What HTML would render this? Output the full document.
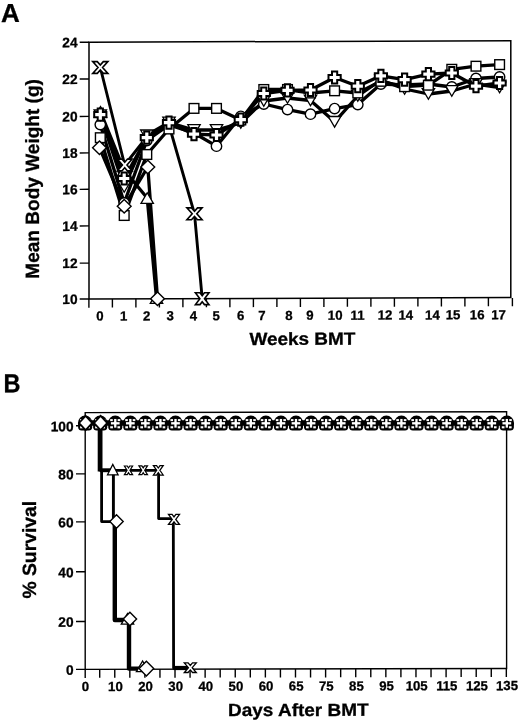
<!DOCTYPE html>
<html><head><meta charset="utf-8"><title>Figure</title>
<style>
html,body{margin:0;padding:0;background:#fff;}
body{width:520px;height:722px;overflow:hidden;font-family:"Liberation Sans", sans-serif;}
svg{display:block;filter:blur(0.3px);}
text{font-family:"Liberation Sans", sans-serif;font-weight:bold;fill:#000;stroke:#000;stroke-width:0.3px;}
.t{font-size:13.2px;}
.ty{font-size:13.7px;}
.ax{font-size:17.6px;}
.ay{font-size:19.2px;}
.pn{font-size:26.0px;}
</style></head><body>
<svg width="520" height="722" viewBox="0 0 520 722">
<rect width="520" height="722" fill="#fff"/>
<g transform="translate(89.0 299.0) skewY(-0.2) translate(-89.0 -299.0)">
<path d="M89.0,42.2 H510.8 V299.0 H89.0 Z" fill="none" stroke="#000" stroke-width="1.5"/>
<line x1="79.7" y1="299.00" x2="89.0" y2="299.00" stroke="#000" stroke-width="1.4"/>
<text x="77.6" y="303.90" text-anchor="end" class="ty">10</text>
<line x1="79.7" y1="263.10" x2="89.0" y2="263.10" stroke="#000" stroke-width="1.4"/>
<text x="77.6" y="268.00" text-anchor="end" class="ty">12</text>
<line x1="79.7" y1="225.90" x2="89.0" y2="225.90" stroke="#000" stroke-width="1.4"/>
<text x="77.6" y="230.80" text-anchor="end" class="ty">14</text>
<line x1="79.7" y1="189.30" x2="89.0" y2="189.30" stroke="#000" stroke-width="1.4"/>
<text x="77.6" y="194.20" text-anchor="end" class="ty">16</text>
<line x1="79.7" y1="152.90" x2="89.0" y2="152.90" stroke="#000" stroke-width="1.4"/>
<text x="77.6" y="157.80" text-anchor="end" class="ty">18</text>
<line x1="79.7" y1="116.40" x2="89.0" y2="116.40" stroke="#000" stroke-width="1.4"/>
<text x="77.6" y="121.30" text-anchor="end" class="ty">20</text>
<line x1="79.7" y1="79.00" x2="89.0" y2="79.00" stroke="#000" stroke-width="1.4"/>
<text x="77.6" y="83.90" text-anchor="end" class="ty">22</text>
<line x1="79.7" y1="42.20" x2="89.0" y2="42.20" stroke="#000" stroke-width="1.4"/>
<text x="77.6" y="47.10" text-anchor="end" class="ty">24</text>
<line x1="88.90" y1="299.0" x2="88.90" y2="307.7" stroke="#000" stroke-width="1.4"/>
<line x1="112.40" y1="299.0" x2="112.40" y2="307.7" stroke="#000" stroke-width="1.4"/>
<line x1="135.90" y1="299.0" x2="135.90" y2="307.7" stroke="#000" stroke-width="1.4"/>
<line x1="159.40" y1="299.0" x2="159.40" y2="307.7" stroke="#000" stroke-width="1.4"/>
<line x1="182.90" y1="299.0" x2="182.90" y2="307.7" stroke="#000" stroke-width="1.4"/>
<line x1="206.40" y1="299.0" x2="206.40" y2="307.7" stroke="#000" stroke-width="1.4"/>
<line x1="229.90" y1="299.0" x2="229.90" y2="307.7" stroke="#000" stroke-width="1.4"/>
<line x1="253.40" y1="299.0" x2="253.40" y2="307.7" stroke="#000" stroke-width="1.4"/>
<line x1="276.90" y1="299.0" x2="276.90" y2="307.7" stroke="#000" stroke-width="1.4"/>
<line x1="300.40" y1="299.0" x2="300.40" y2="307.7" stroke="#000" stroke-width="1.4"/>
<line x1="323.90" y1="299.0" x2="323.90" y2="307.7" stroke="#000" stroke-width="1.4"/>
<line x1="347.40" y1="299.0" x2="347.40" y2="307.7" stroke="#000" stroke-width="1.4"/>
<line x1="370.90" y1="299.0" x2="370.90" y2="307.7" stroke="#000" stroke-width="1.4"/>
<line x1="394.40" y1="299.0" x2="394.40" y2="307.7" stroke="#000" stroke-width="1.4"/>
<line x1="417.90" y1="299.0" x2="417.90" y2="307.7" stroke="#000" stroke-width="1.4"/>
<line x1="441.40" y1="299.0" x2="441.40" y2="307.7" stroke="#000" stroke-width="1.4"/>
<line x1="464.90" y1="299.0" x2="464.90" y2="307.7" stroke="#000" stroke-width="1.4"/>
<line x1="488.40" y1="299.0" x2="488.40" y2="307.7" stroke="#000" stroke-width="1.4"/>
<line x1="512.4" y1="299.5" x2="512.4" y2="307.7" stroke="#000" stroke-width="1.4"/>
<text x="99.9" y="320.6" text-anchor="middle" class="t">0</text>
<text x="123.6" y="320.6" text-anchor="middle" class="t">1</text>
<text x="146.8" y="320.6" text-anchor="middle" class="t">2</text>
<text x="170.1" y="320.6" text-anchor="middle" class="t">3</text>
<text x="193.4" y="320.6" text-anchor="middle" class="t">4</text>
<text x="216.2" y="320.6" text-anchor="middle" class="t">5</text>
<text x="240.7" y="320.6" text-anchor="middle" class="t">6</text>
<text x="261.9" y="320.6" text-anchor="middle" class="t">7</text>
<text x="289.0" y="320.6" text-anchor="middle" class="t">8</text>
<text x="309.9" y="320.6" text-anchor="middle" class="t">9</text>
<text x="335.2" y="320.6" text-anchor="middle" class="t">10</text>
<text x="357.6" y="320.6" text-anchor="middle" class="t">11</text>
<text x="385.0" y="320.6" text-anchor="middle" class="t">12</text>
<text x="405.8" y="320.6" text-anchor="middle" class="t">14</text>
<text x="432.4" y="320.6" text-anchor="middle" class="t">14</text>
<text x="453.1" y="320.6" text-anchor="middle" class="t">15</text>
<text x="477.2" y="320.6" text-anchor="middle" class="t">16</text>
<text x="498.6" y="320.6" text-anchor="middle" class="t">17</text>
<text x="302.4" y="345.6" text-anchor="middle" class="ax" textLength="106" lengthAdjust="spacingAndGlyphs">Weeks BMT</text>
<text transform="translate(38.6 178.7) rotate(-90)" text-anchor="middle" class="ay" textLength="199.6" lengthAdjust="spacingAndGlyphs">Mean Body Weight (g)</text>
<text x="1.1" y="21.6" class="pn">A</text>
</g><g>
<polyline points="100.30,67.50 124.70,165.00 146.80,137.00 169.00,125.00 194.50,213.80 202.20,298.70" fill="none" stroke="#000" stroke-width="2.9" stroke-linejoin="round"/>
<polyline points="100.50,111.80 124.00,170.00 147.20,198.00 156.50,298.00" fill="none" stroke="#000" stroke-width="3.3" stroke-linejoin="round"/>
<polyline points="100.30,124.60 124.20,203.00 146.80,140.50 169.00,125.00 194.00,133.00 216.50,146.20 240.80,116.30 263.80,104.00 287.50,109.60 310.50,114.20 334.60,108.60 357.80,104.60 380.90,84.00 404.60,85.00 428.40,84.00 451.80,87.00 476.00,78.50 499.60,77.00" fill="none" stroke="#000" stroke-width="3.3" stroke-linejoin="round"/>
<polyline points="100.30,115.30 124.20,187.00 146.80,135.30 169.00,122.50 194.00,130.00 216.50,130.00 240.80,123.00 263.80,101.00 287.50,98.00 310.50,100.50 334.60,121.80 357.80,96.00 380.90,80.00 404.60,89.00 428.40,94.00 451.80,91.00 476.00,84.00 499.60,87.50" fill="none" stroke="#000" stroke-width="3.3" stroke-linejoin="round"/>
<polyline points="100.30,137.70 124.20,215.50 146.80,154.50 169.00,129.00 194.00,108.40 216.50,108.40 240.80,120.00 263.80,89.50 287.50,89.50 310.50,93.00 334.60,90.80 357.80,93.00 380.90,81.30 404.60,86.70 428.40,85.20 451.80,69.30 476.00,66.20 499.60,64.60" fill="none" stroke="#000" stroke-width="3.3" stroke-linejoin="round"/>
<polyline points="99.50,147.70 124.20,206.20 147.80,167.00 157.50,298.80" fill="none" stroke="#000" stroke-width="3.3" stroke-linejoin="round"/>
<polyline points="100.30,114.60 124.20,178.50 146.80,137.70 169.00,122.70 194.00,134.20 216.50,135.00 240.80,119.60 263.80,93.50 287.50,90.40 310.50,90.00 334.60,77.50 357.80,86.20 380.90,75.80 404.60,79.60 428.40,74.20 451.80,73.00 476.00,86.20 499.60,83.00" fill="none" stroke="#000" stroke-width="3.3" stroke-linejoin="round"/>
<polygon points="94.30,117.10 106.70,117.10 100.50,106.50" fill="#fff" stroke="#000" stroke-width="1.3" stroke-linejoin="miter"/>
<polygon points="117.80,175.30 130.20,175.30 124.00,164.70" fill="#fff" stroke="#000" stroke-width="1.3" stroke-linejoin="miter"/>
<polygon points="141.00,203.30 153.40,203.30 147.20,192.70" fill="#fff" stroke="#000" stroke-width="1.3" stroke-linejoin="miter"/>
<polygon points="150.30,303.30 162.70,303.30 156.50,292.70" fill="#fff" stroke="#000" stroke-width="1.3" stroke-linejoin="miter"/>
<circle cx="100.30" cy="124.60" r="5.2" fill="#fff" stroke="#000" stroke-width="1.4"/>
<circle cx="124.20" cy="203.00" r="5.2" fill="#fff" stroke="#000" stroke-width="1.4"/>
<circle cx="146.80" cy="140.50" r="5.2" fill="#fff" stroke="#000" stroke-width="1.4"/>
<circle cx="169.00" cy="125.00" r="5.2" fill="#fff" stroke="#000" stroke-width="1.4"/>
<circle cx="194.00" cy="133.00" r="5.2" fill="#fff" stroke="#000" stroke-width="1.4"/>
<circle cx="216.50" cy="146.20" r="5.2" fill="#fff" stroke="#000" stroke-width="1.4"/>
<circle cx="240.80" cy="116.30" r="5.2" fill="#fff" stroke="#000" stroke-width="1.4"/>
<circle cx="263.80" cy="104.00" r="5.2" fill="#fff" stroke="#000" stroke-width="1.4"/>
<circle cx="287.50" cy="109.60" r="5.2" fill="#fff" stroke="#000" stroke-width="1.4"/>
<circle cx="310.50" cy="114.20" r="5.2" fill="#fff" stroke="#000" stroke-width="1.4"/>
<circle cx="334.60" cy="108.60" r="5.2" fill="#fff" stroke="#000" stroke-width="1.4"/>
<circle cx="357.80" cy="104.60" r="5.2" fill="#fff" stroke="#000" stroke-width="1.4"/>
<circle cx="380.90" cy="84.00" r="5.2" fill="#fff" stroke="#000" stroke-width="1.4"/>
<circle cx="404.60" cy="85.00" r="5.2" fill="#fff" stroke="#000" stroke-width="1.4"/>
<circle cx="428.40" cy="84.00" r="5.2" fill="#fff" stroke="#000" stroke-width="1.4"/>
<circle cx="451.80" cy="87.00" r="5.2" fill="#fff" stroke="#000" stroke-width="1.4"/>
<circle cx="476.00" cy="78.50" r="5.2" fill="#fff" stroke="#000" stroke-width="1.4"/>
<circle cx="499.60" cy="77.00" r="5.2" fill="#fff" stroke="#000" stroke-width="1.4"/>
<polygon points="94.10,110.00 106.50,110.00 100.30,120.60" fill="#fff" stroke="#000" stroke-width="1.3" stroke-linejoin="miter"/>
<polygon points="118.00,181.70 130.40,181.70 124.20,192.30" fill="#fff" stroke="#000" stroke-width="1.3" stroke-linejoin="miter"/>
<polygon points="140.60,130.00 153.00,130.00 146.80,140.60" fill="#fff" stroke="#000" stroke-width="1.3" stroke-linejoin="miter"/>
<polygon points="162.80,117.20 175.20,117.20 169.00,127.80" fill="#fff" stroke="#000" stroke-width="1.3" stroke-linejoin="miter"/>
<polygon points="187.80,124.70 200.20,124.70 194.00,135.30" fill="#fff" stroke="#000" stroke-width="1.3" stroke-linejoin="miter"/>
<polygon points="210.30,124.70 222.70,124.70 216.50,135.30" fill="#fff" stroke="#000" stroke-width="1.3" stroke-linejoin="miter"/>
<polygon points="234.60,117.70 247.00,117.70 240.80,128.30" fill="#fff" stroke="#000" stroke-width="1.3" stroke-linejoin="miter"/>
<polygon points="257.60,95.70 270.00,95.70 263.80,106.30" fill="#fff" stroke="#000" stroke-width="1.3" stroke-linejoin="miter"/>
<polygon points="281.30,92.70 293.70,92.70 287.50,103.30" fill="#fff" stroke="#000" stroke-width="1.3" stroke-linejoin="miter"/>
<polygon points="304.30,95.20 316.70,95.20 310.50,105.80" fill="#fff" stroke="#000" stroke-width="1.3" stroke-linejoin="miter"/>
<polygon points="328.40,116.50 340.80,116.50 334.60,127.10" fill="#fff" stroke="#000" stroke-width="1.3" stroke-linejoin="miter"/>
<polygon points="351.60,90.70 364.00,90.70 357.80,101.30" fill="#fff" stroke="#000" stroke-width="1.3" stroke-linejoin="miter"/>
<polygon points="374.70,74.70 387.10,74.70 380.90,85.30" fill="#fff" stroke="#000" stroke-width="1.3" stroke-linejoin="miter"/>
<polygon points="398.40,83.70 410.80,83.70 404.60,94.30" fill="#fff" stroke="#000" stroke-width="1.3" stroke-linejoin="miter"/>
<polygon points="422.20,88.70 434.60,88.70 428.40,99.30" fill="#fff" stroke="#000" stroke-width="1.3" stroke-linejoin="miter"/>
<polygon points="445.60,85.70 458.00,85.70 451.80,96.30" fill="#fff" stroke="#000" stroke-width="1.3" stroke-linejoin="miter"/>
<polygon points="469.80,78.70 482.20,78.70 476.00,89.30" fill="#fff" stroke="#000" stroke-width="1.3" stroke-linejoin="miter"/>
<polygon points="493.40,82.20 505.80,82.20 499.60,92.80" fill="#fff" stroke="#000" stroke-width="1.3" stroke-linejoin="miter"/>
<rect x="95.45" y="132.85" width="9.70" height="9.70" fill="#fff" stroke="#000" stroke-width="1.4"/>
<rect x="119.35" y="210.65" width="9.70" height="9.70" fill="#fff" stroke="#000" stroke-width="1.4"/>
<rect x="141.95" y="149.65" width="9.70" height="9.70" fill="#fff" stroke="#000" stroke-width="1.4"/>
<rect x="164.15" y="124.15" width="9.70" height="9.70" fill="#fff" stroke="#000" stroke-width="1.4"/>
<rect x="189.15" y="103.55" width="9.70" height="9.70" fill="#fff" stroke="#000" stroke-width="1.4"/>
<rect x="211.65" y="103.55" width="9.70" height="9.70" fill="#fff" stroke="#000" stroke-width="1.4"/>
<rect x="235.95" y="115.15" width="9.70" height="9.70" fill="#fff" stroke="#000" stroke-width="1.4"/>
<rect x="258.95" y="84.65" width="9.70" height="9.70" fill="#fff" stroke="#000" stroke-width="1.4"/>
<rect x="282.65" y="84.65" width="9.70" height="9.70" fill="#fff" stroke="#000" stroke-width="1.4"/>
<rect x="305.65" y="88.15" width="9.70" height="9.70" fill="#fff" stroke="#000" stroke-width="1.4"/>
<rect x="329.75" y="85.95" width="9.70" height="9.70" fill="#fff" stroke="#000" stroke-width="1.4"/>
<rect x="352.95" y="88.15" width="9.70" height="9.70" fill="#fff" stroke="#000" stroke-width="1.4"/>
<rect x="376.05" y="76.45" width="9.70" height="9.70" fill="#fff" stroke="#000" stroke-width="1.4"/>
<rect x="399.75" y="81.85" width="9.70" height="9.70" fill="#fff" stroke="#000" stroke-width="1.4"/>
<rect x="423.55" y="80.35" width="9.70" height="9.70" fill="#fff" stroke="#000" stroke-width="1.4"/>
<rect x="446.95" y="64.45" width="9.70" height="9.70" fill="#fff" stroke="#000" stroke-width="1.4"/>
<rect x="471.15" y="61.35" width="9.70" height="9.70" fill="#fff" stroke="#000" stroke-width="1.4"/>
<rect x="494.75" y="59.75" width="9.70" height="9.70" fill="#fff" stroke="#000" stroke-width="1.4"/>
<polygon points="92.60,147.70 99.50,140.90 106.40,147.70 99.50,154.50" fill="#fff" stroke="#000" stroke-width="1.4"/>
<polygon points="117.30,206.20 124.20,199.40 131.10,206.20 124.20,213.00" fill="#fff" stroke="#000" stroke-width="1.4"/>
<polygon points="140.90,167.00 147.80,160.20 154.70,167.00 147.80,173.80" fill="#fff" stroke="#000" stroke-width="1.4"/>
<polygon points="150.60,298.80 157.50,292.00 164.40,298.80 157.50,305.60" fill="#fff" stroke="#000" stroke-width="1.4"/>
<polygon points="92.70,61.60 97.30,61.60 100.30,64.94 103.30,61.60 107.90,61.60 102.60,67.50 107.90,73.40 103.30,73.40 100.30,70.06 97.30,73.40 92.70,73.40 98.00,67.50" fill="#fff" stroke="#000" stroke-width="1.6"/>
<polygon points="117.30,159.10 121.90,159.10 124.70,162.34 127.50,159.10 132.10,159.10 127.00,165.00 132.10,170.90 127.50,170.90 124.70,167.66 121.90,170.90 117.30,170.90 122.40,165.00" fill="#fff" stroke="#000" stroke-width="1.6"/>
<polygon points="186.90,207.90 191.50,207.90 194.50,211.24 197.50,207.90 202.10,207.90 196.80,213.80 202.10,219.70 197.50,219.70 194.50,216.36 191.50,219.70 186.90,219.70 192.20,213.80" fill="#fff" stroke="#000" stroke-width="1.6"/>
<polygon points="195.40,292.80 200.00,292.80 202.20,295.68 204.40,292.80 209.00,292.80 204.50,298.70 209.00,304.60 204.40,304.60 202.20,301.72 200.00,304.60 195.40,304.60 199.90,298.70" fill="#fff" stroke="#000" stroke-width="1.6"/>
<polygon points="97.70,108.50 102.90,108.50 102.90,112.00 106.40,112.00 106.40,117.20 102.90,117.20 102.90,120.70 97.70,120.70 97.70,117.20 94.20,117.20 94.20,112.00 97.70,112.00" fill="#fff" stroke="#000" stroke-width="2.0"/>
<polygon points="121.60,172.40 126.80,172.40 126.80,175.90 130.30,175.90 130.30,181.10 126.80,181.10 126.80,184.60 121.60,184.60 121.60,181.10 118.10,181.10 118.10,175.90 121.60,175.90" fill="#fff" stroke="#000" stroke-width="2.0"/>
<polygon points="144.20,131.60 149.40,131.60 149.40,135.10 152.90,135.10 152.90,140.30 149.40,140.30 149.40,143.80 144.20,143.80 144.20,140.30 140.70,140.30 140.70,135.10 144.20,135.10" fill="#fff" stroke="#000" stroke-width="2.0"/>
<polygon points="166.40,116.60 171.60,116.60 171.60,120.10 175.10,120.10 175.10,125.30 171.60,125.30 171.60,128.80 166.40,128.80 166.40,125.30 162.90,125.30 162.90,120.10 166.40,120.10" fill="#fff" stroke="#000" stroke-width="2.0"/>
<polygon points="191.40,128.10 196.60,128.10 196.60,131.60 200.10,131.60 200.10,136.80 196.60,136.80 196.60,140.30 191.40,140.30 191.40,136.80 187.90,136.80 187.90,131.60 191.40,131.60" fill="#fff" stroke="#000" stroke-width="2.0"/>
<polygon points="213.90,128.90 219.10,128.90 219.10,132.40 222.60,132.40 222.60,137.60 219.10,137.60 219.10,141.10 213.90,141.10 213.90,137.60 210.40,137.60 210.40,132.40 213.90,132.40" fill="#fff" stroke="#000" stroke-width="2.0"/>
<polygon points="238.20,113.50 243.40,113.50 243.40,117.00 246.90,117.00 246.90,122.20 243.40,122.20 243.40,125.70 238.20,125.70 238.20,122.20 234.70,122.20 234.70,117.00 238.20,117.00" fill="#fff" stroke="#000" stroke-width="2.0"/>
<polygon points="261.20,87.40 266.40,87.40 266.40,90.90 269.90,90.90 269.90,96.10 266.40,96.10 266.40,99.60 261.20,99.60 261.20,96.10 257.70,96.10 257.70,90.90 261.20,90.90" fill="#fff" stroke="#000" stroke-width="2.0"/>
<polygon points="284.90,84.30 290.10,84.30 290.10,87.80 293.60,87.80 293.60,93.00 290.10,93.00 290.10,96.50 284.90,96.50 284.90,93.00 281.40,93.00 281.40,87.80 284.90,87.80" fill="#fff" stroke="#000" stroke-width="2.0"/>
<polygon points="307.90,83.90 313.10,83.90 313.10,87.40 316.60,87.40 316.60,92.60 313.10,92.60 313.10,96.10 307.90,96.10 307.90,92.60 304.40,92.60 304.40,87.40 307.90,87.40" fill="#fff" stroke="#000" stroke-width="2.0"/>
<polygon points="332.00,71.40 337.20,71.40 337.20,74.90 340.70,74.90 340.70,80.10 337.20,80.10 337.20,83.60 332.00,83.60 332.00,80.10 328.50,80.10 328.50,74.90 332.00,74.90" fill="#fff" stroke="#000" stroke-width="2.0"/>
<polygon points="355.20,80.10 360.40,80.10 360.40,83.60 363.90,83.60 363.90,88.80 360.40,88.80 360.40,92.30 355.20,92.30 355.20,88.80 351.70,88.80 351.70,83.60 355.20,83.60" fill="#fff" stroke="#000" stroke-width="2.0"/>
<polygon points="378.30,69.70 383.50,69.70 383.50,73.20 387.00,73.20 387.00,78.40 383.50,78.40 383.50,81.90 378.30,81.90 378.30,78.40 374.80,78.40 374.80,73.20 378.30,73.20" fill="#fff" stroke="#000" stroke-width="2.0"/>
<polygon points="402.00,73.50 407.20,73.50 407.20,77.00 410.70,77.00 410.70,82.20 407.20,82.20 407.20,85.70 402.00,85.70 402.00,82.20 398.50,82.20 398.50,77.00 402.00,77.00" fill="#fff" stroke="#000" stroke-width="2.0"/>
<polygon points="425.80,68.10 431.00,68.10 431.00,71.60 434.50,71.60 434.50,76.80 431.00,76.80 431.00,80.30 425.80,80.30 425.80,76.80 422.30,76.80 422.30,71.60 425.80,71.60" fill="#fff" stroke="#000" stroke-width="2.0"/>
<polygon points="449.20,66.90 454.40,66.90 454.40,70.40 457.90,70.40 457.90,75.60 454.40,75.60 454.40,79.10 449.20,79.10 449.20,75.60 445.70,75.60 445.70,70.40 449.20,70.40" fill="#fff" stroke="#000" stroke-width="2.0"/>
<polygon points="473.40,80.10 478.60,80.10 478.60,83.60 482.10,83.60 482.10,88.80 478.60,88.80 478.60,92.30 473.40,92.30 473.40,88.80 469.90,88.80 469.90,83.60 473.40,83.60" fill="#fff" stroke="#000" stroke-width="2.0"/>
<polygon points="497.00,76.90 502.20,76.90 502.20,80.40 505.70,80.40 505.70,85.60 502.20,85.60 502.20,89.10 497.00,89.10 497.00,85.60 493.50,85.60 493.50,80.40 497.00,80.40" fill="#fff" stroke="#000" stroke-width="2.0"/>
</g>
<g transform="translate(85.2 669.4) skewY(-0.12) translate(-85.2 -669.4)">
<path d="M85.2,412.6 H506.6 V669.4 H85.2 Z" fill="none" stroke="#000" stroke-width="1.4"/>
<line x1="76.0" y1="669.40" x2="85.2" y2="669.40" stroke="#000" stroke-width="1.4"/>
<text x="73.6" y="674.70" text-anchor="end" class="ty">0</text>
<line x1="76.0" y1="621.50" x2="85.2" y2="621.50" stroke="#000" stroke-width="1.4"/>
<text x="73.6" y="626.80" text-anchor="end" class="ty">20</text>
<line x1="76.0" y1="571.80" x2="85.2" y2="571.80" stroke="#000" stroke-width="1.4"/>
<text x="73.6" y="577.10" text-anchor="end" class="ty">40</text>
<line x1="76.0" y1="521.90" x2="85.2" y2="521.90" stroke="#000" stroke-width="1.4"/>
<text x="73.6" y="527.20" text-anchor="end" class="ty">60</text>
<line x1="76.0" y1="473.90" x2="85.2" y2="473.90" stroke="#000" stroke-width="1.4"/>
<text x="73.6" y="479.20" text-anchor="end" class="ty">80</text>
<line x1="76.0" y1="425.80" x2="85.2" y2="425.80" stroke="#000" stroke-width="1.4"/>
<text x="73.6" y="431.10" text-anchor="end" class="ty">100</text>
<line x1="85.20" y1="669.4" x2="85.20" y2="677.9" stroke="#000" stroke-width="1.4"/>
<line x1="99.71" y1="669.4" x2="99.71" y2="677.9" stroke="#000" stroke-width="1.4"/>
<line x1="114.77" y1="669.4" x2="114.77" y2="677.9" stroke="#000" stroke-width="1.4"/>
<line x1="129.83" y1="669.4" x2="129.83" y2="677.9" stroke="#000" stroke-width="1.4"/>
<line x1="144.89" y1="669.4" x2="144.89" y2="677.9" stroke="#000" stroke-width="1.4"/>
<line x1="159.95" y1="669.4" x2="159.95" y2="677.9" stroke="#000" stroke-width="1.4"/>
<line x1="175.01" y1="669.4" x2="175.01" y2="677.9" stroke="#000" stroke-width="1.4"/>
<line x1="190.07" y1="669.4" x2="190.07" y2="677.9" stroke="#000" stroke-width="1.4"/>
<line x1="205.13" y1="669.4" x2="205.13" y2="677.9" stroke="#000" stroke-width="1.4"/>
<line x1="220.19" y1="669.4" x2="220.19" y2="677.9" stroke="#000" stroke-width="1.4"/>
<line x1="235.25" y1="669.4" x2="235.25" y2="677.9" stroke="#000" stroke-width="1.4"/>
<line x1="250.31" y1="669.4" x2="250.31" y2="677.9" stroke="#000" stroke-width="1.4"/>
<line x1="265.37" y1="669.4" x2="265.37" y2="677.9" stroke="#000" stroke-width="1.4"/>
<line x1="280.43" y1="669.4" x2="280.43" y2="677.9" stroke="#000" stroke-width="1.4"/>
<line x1="295.49" y1="669.4" x2="295.49" y2="677.9" stroke="#000" stroke-width="1.4"/>
<line x1="310.55" y1="669.4" x2="310.55" y2="677.9" stroke="#000" stroke-width="1.4"/>
<line x1="325.61" y1="669.4" x2="325.61" y2="677.9" stroke="#000" stroke-width="1.4"/>
<line x1="340.67" y1="669.4" x2="340.67" y2="677.9" stroke="#000" stroke-width="1.4"/>
<line x1="355.73" y1="669.4" x2="355.73" y2="677.9" stroke="#000" stroke-width="1.4"/>
<line x1="370.79" y1="669.4" x2="370.79" y2="677.9" stroke="#000" stroke-width="1.4"/>
<line x1="385.85" y1="669.4" x2="385.85" y2="677.9" stroke="#000" stroke-width="1.4"/>
<line x1="400.91" y1="669.4" x2="400.91" y2="677.9" stroke="#000" stroke-width="1.4"/>
<line x1="415.97" y1="669.4" x2="415.97" y2="677.9" stroke="#000" stroke-width="1.4"/>
<line x1="431.03" y1="669.4" x2="431.03" y2="677.9" stroke="#000" stroke-width="1.4"/>
<line x1="446.09" y1="669.4" x2="446.09" y2="677.9" stroke="#000" stroke-width="1.4"/>
<line x1="461.15" y1="669.4" x2="461.15" y2="677.9" stroke="#000" stroke-width="1.4"/>
<line x1="476.21" y1="669.4" x2="476.21" y2="677.9" stroke="#000" stroke-width="1.4"/>
<line x1="491.27" y1="669.4" x2="491.27" y2="677.9" stroke="#000" stroke-width="1.4"/>
<line x1="506.33" y1="669.4" x2="506.33" y2="677.9" stroke="#000" stroke-width="1.4"/>
<text x="85.35" y="691.0" text-anchor="middle" class="t">0</text>
<text x="115.47" y="691.0" text-anchor="middle" class="t">10</text>
<text x="145.59" y="691.0" text-anchor="middle" class="t">20</text>
<text x="175.71" y="691.0" text-anchor="middle" class="t">30</text>
<text x="205.83" y="691.0" text-anchor="middle" class="t">40</text>
<text x="235.95" y="691.0" text-anchor="middle" class="t">50</text>
<text x="266.07" y="691.0" text-anchor="middle" class="t">60</text>
<text x="296.19" y="691.0" text-anchor="middle" class="t">65</text>
<text x="326.31" y="691.0" text-anchor="middle" class="t">75</text>
<text x="356.43" y="691.0" text-anchor="middle" class="t">85</text>
<text x="386.55" y="691.0" text-anchor="middle" class="t">95</text>
<text x="416.67" y="691.0" text-anchor="middle" class="t">105</text>
<text x="446.79" y="691.0" text-anchor="middle" class="t">115</text>
<text x="476.91" y="691.0" text-anchor="middle" class="t">125</text>
<text x="507.03" y="691.0" text-anchor="middle" class="t">135</text>
<text x="298.3" y="716.4" text-anchor="middle" class="ax" textLength="140.5" lengthAdjust="spacingAndGlyphs">Days After BMT</text>
<text transform="translate(35.8 549.6) rotate(-90)" text-anchor="middle" class="ay" textLength="97.8" lengthAdjust="spacingAndGlyphs">% Survival</text>
<text x="3.4" y="392.0" class="pn" textLength="17.0" lengthAdjust="spacingAndGlyphs">B</text>
</g><g>
<polyline points="84.65,423.10 506.33,423.10" fill="none" stroke="#000" stroke-width="5.5" stroke-linejoin="round"/>
<polyline points="100.20,423.10 100.20,470.30 158.60,470.30 158.60,518.60 173.30,518.60 173.60,668.00 190.00,668.00" fill="none" stroke="#000" stroke-width="2.8" stroke-linejoin="round"/>
<polyline points="173.60,668.00 190.00,668.00" fill="none" stroke="#000" stroke-width="4.2" stroke-linejoin="round"/>
<polyline points="100.20,470.30 113.40,470.30 113.40,521.60" fill="none" stroke="#000" stroke-width="2.9" stroke-linejoin="round"/>
<polyline points="100.20,470.30 112.00,470.30" fill="none" stroke="#000" stroke-width="3.8" stroke-linejoin="round"/>
<polyline points="101.60,470.30 101.60,521.60 116.00,521.60" fill="none" stroke="#000" stroke-width="2.8" stroke-linejoin="round"/>
<polyline points="100.10,423.10 100.10,471.50" fill="none" stroke="#000" stroke-width="4.8" stroke-linejoin="round"/>
<polyline points="114.80,521.60 114.80,620.00 129.00,620.00 129.00,668.60 146.00,668.60" fill="none" stroke="#000" stroke-width="4.4" stroke-linejoin="round"/>
<path d="M77.95,423.00 A7.2,7.6 0 0 1 92.35,423.00 L92.15,427.60 Q91.95,430.60 88.75,430.60 L81.55,430.60 Q78.35,430.60 78.15,427.60 Z" fill="#000"/><rect x="80.05" y="419.10" width="2.6" height="2.0" fill="#fff"/><rect x="87.55" y="419.10" width="2.6" height="2.0" fill="#fff"/><rect x="80.10" y="426.25" width="2.7" height="2.1" fill="#fff"/><rect x="87.35" y="426.25" width="2.6" height="2.1" fill="#fff"/><rect x="80.80" y="422.15" width="8.7" height="2.3" fill="#fff"/><rect x="84.00" y="418.95" width="2.3" height="8.7" fill="#fff"/>
<path d="M93.01,423.00 A7.2,7.6 0 0 1 107.41,423.00 L107.21,427.60 Q107.01,430.60 103.81,430.60 L96.61,430.60 Q93.41,430.60 93.21,427.60 Z" fill="#000"/><rect x="95.11" y="419.10" width="2.6" height="2.0" fill="#fff"/><rect x="102.61" y="419.10" width="2.6" height="2.0" fill="#fff"/><rect x="95.16" y="426.25" width="2.7" height="2.1" fill="#fff"/><rect x="102.41" y="426.25" width="2.6" height="2.1" fill="#fff"/><rect x="95.86" y="422.15" width="8.7" height="2.3" fill="#fff"/><rect x="99.06" y="418.95" width="2.3" height="8.7" fill="#fff"/>
<path d="M108.07,423.00 A7.2,7.6 0 0 1 122.47,423.00 L122.27,427.60 Q122.07,430.60 118.87,430.60 L111.67,430.60 Q108.47,430.60 108.27,427.60 Z" fill="#000"/><rect x="110.17" y="419.10" width="2.6" height="2.0" fill="#fff"/><rect x="117.67" y="419.10" width="2.6" height="2.0" fill="#fff"/><rect x="110.22" y="426.25" width="2.7" height="2.1" fill="#fff"/><rect x="117.47" y="426.25" width="2.6" height="2.1" fill="#fff"/><rect x="110.92" y="422.15" width="8.7" height="2.3" fill="#fff"/><rect x="114.12" y="418.95" width="2.3" height="8.7" fill="#fff"/>
<path d="M123.13,423.00 A7.2,7.6 0 0 1 137.53,423.00 L137.33,427.60 Q137.13,430.60 133.93,430.60 L126.73,430.60 Q123.53,430.60 123.33,427.60 Z" fill="#000"/><rect x="125.23" y="419.10" width="2.6" height="2.0" fill="#fff"/><rect x="132.73" y="419.10" width="2.6" height="2.0" fill="#fff"/><rect x="125.28" y="426.25" width="2.7" height="2.1" fill="#fff"/><rect x="132.53" y="426.25" width="2.6" height="2.1" fill="#fff"/><rect x="125.98" y="422.15" width="8.7" height="2.3" fill="#fff"/><rect x="129.18" y="418.95" width="2.3" height="8.7" fill="#fff"/>
<path d="M138.19,423.00 A7.2,7.6 0 0 1 152.59,423.00 L152.39,427.60 Q152.19,430.60 148.99,430.60 L141.79,430.60 Q138.59,430.60 138.39,427.60 Z" fill="#000"/><rect x="140.29" y="419.10" width="2.6" height="2.0" fill="#fff"/><rect x="147.79" y="419.10" width="2.6" height="2.0" fill="#fff"/><rect x="140.34" y="426.25" width="2.7" height="2.1" fill="#fff"/><rect x="147.59" y="426.25" width="2.6" height="2.1" fill="#fff"/><rect x="141.04" y="422.15" width="8.7" height="2.3" fill="#fff"/><rect x="144.24" y="418.95" width="2.3" height="8.7" fill="#fff"/>
<path d="M153.25,423.00 A7.2,7.6 0 0 1 167.65,423.00 L167.45,427.60 Q167.25,430.60 164.05,430.60 L156.85,430.60 Q153.65,430.60 153.45,427.60 Z" fill="#000"/><rect x="155.35" y="419.10" width="2.6" height="2.0" fill="#fff"/><rect x="162.85" y="419.10" width="2.6" height="2.0" fill="#fff"/><rect x="155.40" y="426.25" width="2.7" height="2.1" fill="#fff"/><rect x="162.65" y="426.25" width="2.6" height="2.1" fill="#fff"/><rect x="156.10" y="422.15" width="8.7" height="2.3" fill="#fff"/><rect x="159.30" y="418.95" width="2.3" height="8.7" fill="#fff"/>
<path d="M168.31,423.00 A7.2,7.6 0 0 1 182.71,423.00 L182.51,427.60 Q182.31,430.60 179.11,430.60 L171.91,430.60 Q168.71,430.60 168.51,427.60 Z" fill="#000"/><rect x="170.41" y="419.10" width="2.6" height="2.0" fill="#fff"/><rect x="177.91" y="419.10" width="2.6" height="2.0" fill="#fff"/><rect x="170.46" y="426.25" width="2.7" height="2.1" fill="#fff"/><rect x="177.71" y="426.25" width="2.6" height="2.1" fill="#fff"/><rect x="171.16" y="422.15" width="8.7" height="2.3" fill="#fff"/><rect x="174.36" y="418.95" width="2.3" height="8.7" fill="#fff"/>
<path d="M183.37,423.00 A7.2,7.6 0 0 1 197.77,423.00 L197.57,427.60 Q197.37,430.60 194.17,430.60 L186.97,430.60 Q183.77,430.60 183.57,427.60 Z" fill="#000"/><rect x="185.47" y="419.10" width="2.6" height="2.0" fill="#fff"/><rect x="192.97" y="419.10" width="2.6" height="2.0" fill="#fff"/><rect x="185.52" y="426.25" width="2.7" height="2.1" fill="#fff"/><rect x="192.77" y="426.25" width="2.6" height="2.1" fill="#fff"/><rect x="186.22" y="422.15" width="8.7" height="2.3" fill="#fff"/><rect x="189.42" y="418.95" width="2.3" height="8.7" fill="#fff"/>
<path d="M198.43,423.00 A7.2,7.6 0 0 1 212.83,423.00 L212.63,427.60 Q212.43,430.60 209.23,430.60 L202.03,430.60 Q198.83,430.60 198.63,427.60 Z" fill="#000"/><rect x="200.53" y="419.10" width="2.6" height="2.0" fill="#fff"/><rect x="208.03" y="419.10" width="2.6" height="2.0" fill="#fff"/><rect x="200.58" y="426.25" width="2.7" height="2.1" fill="#fff"/><rect x="207.83" y="426.25" width="2.6" height="2.1" fill="#fff"/><rect x="201.28" y="422.15" width="8.7" height="2.3" fill="#fff"/><rect x="204.48" y="418.95" width="2.3" height="8.7" fill="#fff"/>
<path d="M213.49,423.00 A7.2,7.6 0 0 1 227.89,423.00 L227.69,427.60 Q227.49,430.60 224.29,430.60 L217.09,430.60 Q213.89,430.60 213.69,427.60 Z" fill="#000"/><rect x="215.59" y="419.10" width="2.6" height="2.0" fill="#fff"/><rect x="223.09" y="419.10" width="2.6" height="2.0" fill="#fff"/><rect x="215.64" y="426.25" width="2.7" height="2.1" fill="#fff"/><rect x="222.89" y="426.25" width="2.6" height="2.1" fill="#fff"/><rect x="216.34" y="422.15" width="8.7" height="2.3" fill="#fff"/><rect x="219.54" y="418.95" width="2.3" height="8.7" fill="#fff"/>
<path d="M228.55,423.00 A7.2,7.6 0 0 1 242.95,423.00 L242.75,427.60 Q242.55,430.60 239.35,430.60 L232.15,430.60 Q228.95,430.60 228.75,427.60 Z" fill="#000"/><rect x="230.65" y="419.10" width="2.6" height="2.0" fill="#fff"/><rect x="238.15" y="419.10" width="2.6" height="2.0" fill="#fff"/><rect x="230.70" y="426.25" width="2.7" height="2.1" fill="#fff"/><rect x="237.95" y="426.25" width="2.6" height="2.1" fill="#fff"/><rect x="231.40" y="422.15" width="8.7" height="2.3" fill="#fff"/><rect x="234.60" y="418.95" width="2.3" height="8.7" fill="#fff"/>
<path d="M243.61,423.00 A7.2,7.6 0 0 1 258.01,423.00 L257.81,427.60 Q257.61,430.60 254.41,430.60 L247.21,430.60 Q244.01,430.60 243.81,427.60 Z" fill="#000"/><rect x="245.71" y="419.10" width="2.6" height="2.0" fill="#fff"/><rect x="253.21" y="419.10" width="2.6" height="2.0" fill="#fff"/><rect x="245.76" y="426.25" width="2.7" height="2.1" fill="#fff"/><rect x="253.01" y="426.25" width="2.6" height="2.1" fill="#fff"/><rect x="246.46" y="422.15" width="8.7" height="2.3" fill="#fff"/><rect x="249.66" y="418.95" width="2.3" height="8.7" fill="#fff"/>
<path d="M258.67,423.00 A7.2,7.6 0 0 1 273.07,423.00 L272.87,427.60 Q272.67,430.60 269.47,430.60 L262.27,430.60 Q259.07,430.60 258.87,427.60 Z" fill="#000"/><rect x="260.77" y="419.10" width="2.6" height="2.0" fill="#fff"/><rect x="268.27" y="419.10" width="2.6" height="2.0" fill="#fff"/><rect x="260.82" y="426.25" width="2.7" height="2.1" fill="#fff"/><rect x="268.07" y="426.25" width="2.6" height="2.1" fill="#fff"/><rect x="261.52" y="422.15" width="8.7" height="2.3" fill="#fff"/><rect x="264.72" y="418.95" width="2.3" height="8.7" fill="#fff"/>
<path d="M273.73,423.00 A7.2,7.6 0 0 1 288.13,423.00 L287.93,427.60 Q287.73,430.60 284.53,430.60 L277.33,430.60 Q274.13,430.60 273.93,427.60 Z" fill="#000"/><rect x="275.83" y="419.10" width="2.6" height="2.0" fill="#fff"/><rect x="283.33" y="419.10" width="2.6" height="2.0" fill="#fff"/><rect x="275.88" y="426.25" width="2.7" height="2.1" fill="#fff"/><rect x="283.13" y="426.25" width="2.6" height="2.1" fill="#fff"/><rect x="276.58" y="422.15" width="8.7" height="2.3" fill="#fff"/><rect x="279.78" y="418.95" width="2.3" height="8.7" fill="#fff"/>
<path d="M288.79,423.00 A7.2,7.6 0 0 1 303.19,423.00 L302.99,427.60 Q302.79,430.60 299.59,430.60 L292.39,430.60 Q289.19,430.60 288.99,427.60 Z" fill="#000"/><rect x="290.89" y="419.10" width="2.6" height="2.0" fill="#fff"/><rect x="298.39" y="419.10" width="2.6" height="2.0" fill="#fff"/><rect x="290.94" y="426.25" width="2.7" height="2.1" fill="#fff"/><rect x="298.19" y="426.25" width="2.6" height="2.1" fill="#fff"/><rect x="291.64" y="422.15" width="8.7" height="2.3" fill="#fff"/><rect x="294.84" y="418.95" width="2.3" height="8.7" fill="#fff"/>
<path d="M303.85,423.00 A7.2,7.6 0 0 1 318.25,423.00 L318.05,427.60 Q317.85,430.60 314.65,430.60 L307.45,430.60 Q304.25,430.60 304.05,427.60 Z" fill="#000"/><rect x="305.95" y="419.10" width="2.6" height="2.0" fill="#fff"/><rect x="313.45" y="419.10" width="2.6" height="2.0" fill="#fff"/><rect x="306.00" y="426.25" width="2.7" height="2.1" fill="#fff"/><rect x="313.25" y="426.25" width="2.6" height="2.1" fill="#fff"/><rect x="306.70" y="422.15" width="8.7" height="2.3" fill="#fff"/><rect x="309.90" y="418.95" width="2.3" height="8.7" fill="#fff"/>
<path d="M318.91,423.00 A7.2,7.6 0 0 1 333.31,423.00 L333.11,427.60 Q332.91,430.60 329.71,430.60 L322.51,430.60 Q319.31,430.60 319.11,427.60 Z" fill="#000"/><rect x="321.01" y="419.10" width="2.6" height="2.0" fill="#fff"/><rect x="328.51" y="419.10" width="2.6" height="2.0" fill="#fff"/><rect x="321.06" y="426.25" width="2.7" height="2.1" fill="#fff"/><rect x="328.31" y="426.25" width="2.6" height="2.1" fill="#fff"/><rect x="321.76" y="422.15" width="8.7" height="2.3" fill="#fff"/><rect x="324.96" y="418.95" width="2.3" height="8.7" fill="#fff"/>
<path d="M333.97,423.00 A7.2,7.6 0 0 1 348.37,423.00 L348.17,427.60 Q347.97,430.60 344.77,430.60 L337.57,430.60 Q334.37,430.60 334.17,427.60 Z" fill="#000"/><rect x="336.07" y="419.10" width="2.6" height="2.0" fill="#fff"/><rect x="343.57" y="419.10" width="2.6" height="2.0" fill="#fff"/><rect x="336.12" y="426.25" width="2.7" height="2.1" fill="#fff"/><rect x="343.37" y="426.25" width="2.6" height="2.1" fill="#fff"/><rect x="336.82" y="422.15" width="8.7" height="2.3" fill="#fff"/><rect x="340.02" y="418.95" width="2.3" height="8.7" fill="#fff"/>
<path d="M349.03,423.00 A7.2,7.6 0 0 1 363.43,423.00 L363.23,427.60 Q363.03,430.60 359.83,430.60 L352.63,430.60 Q349.43,430.60 349.23,427.60 Z" fill="#000"/><rect x="351.13" y="419.10" width="2.6" height="2.0" fill="#fff"/><rect x="358.63" y="419.10" width="2.6" height="2.0" fill="#fff"/><rect x="351.18" y="426.25" width="2.7" height="2.1" fill="#fff"/><rect x="358.43" y="426.25" width="2.6" height="2.1" fill="#fff"/><rect x="351.88" y="422.15" width="8.7" height="2.3" fill="#fff"/><rect x="355.08" y="418.95" width="2.3" height="8.7" fill="#fff"/>
<path d="M364.09,423.00 A7.2,7.6 0 0 1 378.49,423.00 L378.29,427.60 Q378.09,430.60 374.89,430.60 L367.69,430.60 Q364.49,430.60 364.29,427.60 Z" fill="#000"/><rect x="366.19" y="419.10" width="2.6" height="2.0" fill="#fff"/><rect x="373.69" y="419.10" width="2.6" height="2.0" fill="#fff"/><rect x="366.24" y="426.25" width="2.7" height="2.1" fill="#fff"/><rect x="373.49" y="426.25" width="2.6" height="2.1" fill="#fff"/><rect x="366.94" y="422.15" width="8.7" height="2.3" fill="#fff"/><rect x="370.14" y="418.95" width="2.3" height="8.7" fill="#fff"/>
<path d="M379.15,423.00 A7.2,7.6 0 0 1 393.55,423.00 L393.35,427.60 Q393.15,430.60 389.95,430.60 L382.75,430.60 Q379.55,430.60 379.35,427.60 Z" fill="#000"/><rect x="381.25" y="419.10" width="2.6" height="2.0" fill="#fff"/><rect x="388.75" y="419.10" width="2.6" height="2.0" fill="#fff"/><rect x="381.30" y="426.25" width="2.7" height="2.1" fill="#fff"/><rect x="388.55" y="426.25" width="2.6" height="2.1" fill="#fff"/><rect x="382.00" y="422.15" width="8.7" height="2.3" fill="#fff"/><rect x="385.20" y="418.95" width="2.3" height="8.7" fill="#fff"/>
<path d="M394.21,423.00 A7.2,7.6 0 0 1 408.61,423.00 L408.41,427.60 Q408.21,430.60 405.01,430.60 L397.81,430.60 Q394.61,430.60 394.41,427.60 Z" fill="#000"/><rect x="396.31" y="419.10" width="2.6" height="2.0" fill="#fff"/><rect x="403.81" y="419.10" width="2.6" height="2.0" fill="#fff"/><rect x="396.36" y="426.25" width="2.7" height="2.1" fill="#fff"/><rect x="403.61" y="426.25" width="2.6" height="2.1" fill="#fff"/><rect x="397.06" y="422.15" width="8.7" height="2.3" fill="#fff"/><rect x="400.26" y="418.95" width="2.3" height="8.7" fill="#fff"/>
<path d="M409.27,423.00 A7.2,7.6 0 0 1 423.67,423.00 L423.47,427.60 Q423.27,430.60 420.07,430.60 L412.87,430.60 Q409.67,430.60 409.47,427.60 Z" fill="#000"/><rect x="411.37" y="419.10" width="2.6" height="2.0" fill="#fff"/><rect x="418.87" y="419.10" width="2.6" height="2.0" fill="#fff"/><rect x="411.42" y="426.25" width="2.7" height="2.1" fill="#fff"/><rect x="418.67" y="426.25" width="2.6" height="2.1" fill="#fff"/><rect x="412.12" y="422.15" width="8.7" height="2.3" fill="#fff"/><rect x="415.32" y="418.95" width="2.3" height="8.7" fill="#fff"/>
<path d="M424.33,423.00 A7.2,7.6 0 0 1 438.73,423.00 L438.53,427.60 Q438.33,430.60 435.13,430.60 L427.93,430.60 Q424.73,430.60 424.53,427.60 Z" fill="#000"/><rect x="426.43" y="419.10" width="2.6" height="2.0" fill="#fff"/><rect x="433.93" y="419.10" width="2.6" height="2.0" fill="#fff"/><rect x="426.48" y="426.25" width="2.7" height="2.1" fill="#fff"/><rect x="433.73" y="426.25" width="2.6" height="2.1" fill="#fff"/><rect x="427.18" y="422.15" width="8.7" height="2.3" fill="#fff"/><rect x="430.38" y="418.95" width="2.3" height="8.7" fill="#fff"/>
<path d="M439.39,423.00 A7.2,7.6 0 0 1 453.79,423.00 L453.59,427.60 Q453.39,430.60 450.19,430.60 L442.99,430.60 Q439.79,430.60 439.59,427.60 Z" fill="#000"/><rect x="441.49" y="419.10" width="2.6" height="2.0" fill="#fff"/><rect x="448.99" y="419.10" width="2.6" height="2.0" fill="#fff"/><rect x="441.54" y="426.25" width="2.7" height="2.1" fill="#fff"/><rect x="448.79" y="426.25" width="2.6" height="2.1" fill="#fff"/><rect x="442.24" y="422.15" width="8.7" height="2.3" fill="#fff"/><rect x="445.44" y="418.95" width="2.3" height="8.7" fill="#fff"/>
<path d="M454.45,423.00 A7.2,7.6 0 0 1 468.85,423.00 L468.65,427.60 Q468.45,430.60 465.25,430.60 L458.05,430.60 Q454.85,430.60 454.65,427.60 Z" fill="#000"/><rect x="456.55" y="419.10" width="2.6" height="2.0" fill="#fff"/><rect x="464.05" y="419.10" width="2.6" height="2.0" fill="#fff"/><rect x="456.60" y="426.25" width="2.7" height="2.1" fill="#fff"/><rect x="463.85" y="426.25" width="2.6" height="2.1" fill="#fff"/><rect x="457.30" y="422.15" width="8.7" height="2.3" fill="#fff"/><rect x="460.50" y="418.95" width="2.3" height="8.7" fill="#fff"/>
<path d="M469.51,423.00 A7.2,7.6 0 0 1 483.91,423.00 L483.71,427.60 Q483.51,430.60 480.31,430.60 L473.11,430.60 Q469.91,430.60 469.71,427.60 Z" fill="#000"/><rect x="471.61" y="419.10" width="2.6" height="2.0" fill="#fff"/><rect x="479.11" y="419.10" width="2.6" height="2.0" fill="#fff"/><rect x="471.66" y="426.25" width="2.7" height="2.1" fill="#fff"/><rect x="478.91" y="426.25" width="2.6" height="2.1" fill="#fff"/><rect x="472.36" y="422.15" width="8.7" height="2.3" fill="#fff"/><rect x="475.56" y="418.95" width="2.3" height="8.7" fill="#fff"/>
<path d="M484.57,423.00 A7.2,7.6 0 0 1 498.97,423.00 L498.77,427.60 Q498.57,430.60 495.37,430.60 L488.17,430.60 Q484.97,430.60 484.77,427.60 Z" fill="#000"/><rect x="486.67" y="419.10" width="2.6" height="2.0" fill="#fff"/><rect x="494.17" y="419.10" width="2.6" height="2.0" fill="#fff"/><rect x="486.72" y="426.25" width="2.7" height="2.1" fill="#fff"/><rect x="493.97" y="426.25" width="2.6" height="2.1" fill="#fff"/><rect x="487.42" y="422.15" width="8.7" height="2.3" fill="#fff"/><rect x="490.62" y="418.95" width="2.3" height="8.7" fill="#fff"/>
<path d="M499.63,423.00 A7.2,7.6 0 0 1 514.03,423.00 L513.83,427.60 Q513.63,430.60 510.43,430.60 L503.23,430.60 Q500.03,430.60 499.83,427.60 Z" fill="#000"/><rect x="501.73" y="419.10" width="2.6" height="2.0" fill="#fff"/><rect x="509.23" y="419.10" width="2.6" height="2.0" fill="#fff"/><rect x="501.78" y="426.25" width="2.7" height="2.1" fill="#fff"/><rect x="509.03" y="426.25" width="2.6" height="2.1" fill="#fff"/><rect x="502.48" y="422.15" width="8.7" height="2.3" fill="#fff"/><rect x="505.68" y="418.95" width="2.3" height="8.7" fill="#fff"/>
<polygon points="107.50,474.80 118.10,474.80 112.80,464.40" fill="#fff" stroke="#000" stroke-width="1.3" stroke-linejoin="miter"/>
<polygon points="121.30,624.10 133.70,624.10 127.50,613.50" fill="#fff" stroke="#000" stroke-width="1.3" stroke-linejoin="miter"/>
<polygon points="136.40,671.60 148.80,671.60 142.60,661.00" fill="#fff" stroke="#000" stroke-width="1.3" stroke-linejoin="miter"/>
<polygon points="124.40,466.00 127.30,466.00 128.50,467.95 129.70,466.00 132.60,466.00 129.95,470.30 132.60,474.60 129.70,474.60 128.50,472.65 127.30,474.60 124.40,474.60 127.05,470.30" fill="#fff" stroke="#000" stroke-width="1.2"/>
<polygon points="138.90,465.90 141.90,465.90 143.20,467.94 144.50,465.90 147.50,465.90 144.70,470.30 147.50,474.70 144.50,474.70 143.20,472.66 141.90,474.70 138.90,474.70 141.70,470.30" fill="#fff" stroke="#000" stroke-width="1.2"/>
<polygon points="153.40,465.60 156.60,465.60 158.30,468.02 160.00,465.60 163.20,465.60 159.90,470.30 163.20,475.00 160.00,475.00 158.30,472.58 156.60,475.00 153.40,475.00 156.70,470.30" fill="#fff" stroke="#000" stroke-width="1.25"/>
<polygon points="168.50,514.40 172.10,514.40 174.00,516.97 175.90,514.40 179.50,514.40 175.80,519.40 179.50,524.40 175.90,524.40 174.00,521.83 172.10,524.40 168.50,524.40 172.20,519.40" fill="#fff" stroke="#000" stroke-width="1.3"/>
<polygon points="184.30,662.90 188.10,662.90 190.30,665.48 192.50,662.90 196.30,662.90 192.20,667.70 196.30,672.50 192.50,672.50 190.30,669.92 188.10,672.50 184.30,672.50 188.40,667.70" fill="#fff" stroke="#000" stroke-width="1.3"/>
<polygon points="79.10,423.00 85.60,415.90 92.10,423.00 85.60,430.10" fill="#fff" stroke="#000" stroke-width="1.8"/>
<polygon points="94.10,423.00 100.60,415.90 107.10,423.00 100.60,430.10" fill="#fff" stroke="#000" stroke-width="1.8"/>
<polygon points="109.80,521.50 116.50,514.70 123.20,521.50 116.50,528.30" fill="#fff" stroke="#000" stroke-width="1.4"/>
<polygon points="123.20,619.00 129.90,612.20 136.60,619.00 129.90,625.80" fill="#fff" stroke="#000" stroke-width="1.4"/>
<polygon points="139.10,668.60 146.40,661.20 153.70,668.60 146.40,676.00" fill="#fff" stroke="#000" stroke-width="1.4"/>
</g>
</svg>
</body></html>
